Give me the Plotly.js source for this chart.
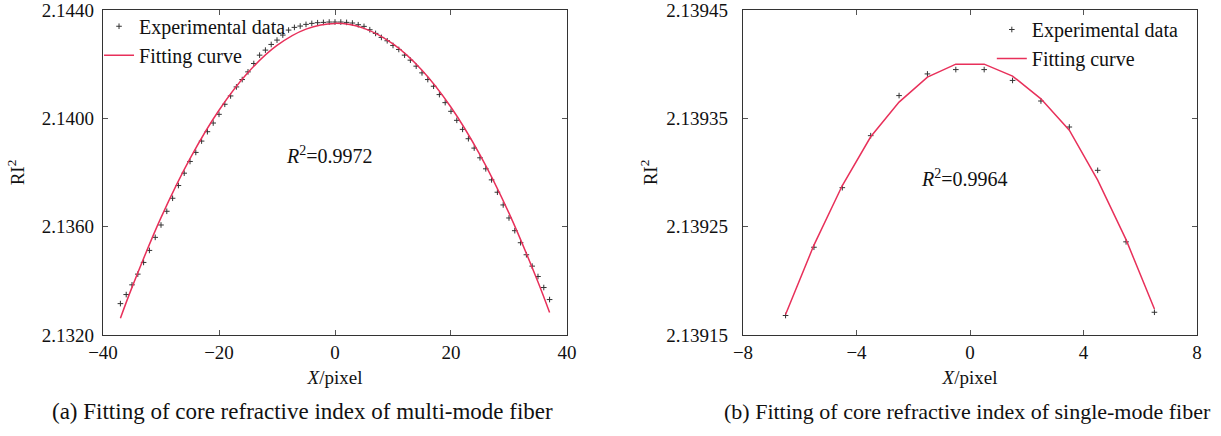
<!DOCTYPE html>
<html>
<head>
<meta charset="utf-8">
<script src="https://cdn.plot.ly/plotly-3.0.1.min.js"></script>
<style>html,body{margin:0;padding:0;background:#fff;}#chart{width:1221px;height:436px;}</style>
</head>
<body>
<div id="chart"></div>
<script>
// (a) multi-mode fiber: experimental data
const multiX = [-37,-36,-35,-34,-33,-32,-31,-30,-29,-28,-27,-26,-25,-24,-23,-22,-21,-20,-19,-18,-17,-16,-15,-14,-13,-12,-11,-10,-9,-8,-7,-6,-5,-4,-3,-2,-1,0,1,2,3,4,5,6,7,8,9,10,11,12,13,14,15,16,17,18,19,20,21,22,23,24,25,26,27,28,29,30,31,32,33,34,35,36,37];
const multiY = [2.133159,2.133493,2.133852,2.134247,2.134679,2.135123,2.135605,2.136062,2.136568,2.137049,2.137519,2.137975,2.138407,2.138741,2.139160,2.139506,2.139827,2.140148,2.140519,2.140827,2.141160,2.141432,2.141716,2.142025,2.142333,2.142519,2.142728,2.142889,2.143074,2.143259,2.143358,2.143407,2.143469,2.143506,2.143531,2.143543,2.143556,2.143556,2.143556,2.143543,2.143519,2.143457,2.143395,2.143272,2.143136,2.142988,2.142864,2.142691,2.142543,2.142333,2.142148,2.141926,2.141679,2.141432,2.141185,2.140877,2.140580,2.140259,2.139926,2.139593,2.139247,2.138901,2.138543,2.138136,2.137728,2.137272,2.136802,2.136321,2.135852,2.135407,2.134963,2.134543,2.134160,2.133753,2.133309];
// (a) fitting curve
const multiFitX = [-37,-35,-30,-25,-20,-15,-10,-5,0,5,10,15,20,25,30,35,37];
const multiFitY = [2.132619,2.133759,2.136333,2.138513,2.140299,2.141692,2.142690,2.143295,2.143506,2.143323,2.142746,2.141776,2.140411,2.138653,2.136501,2.133955,2.132827];

// (b) single-mode fiber: experimental data
const singleX = [-6.5,-5.5,-4.5,-3.5,-2.5,-1.5,-0.5,0.5,1.5,2.5,3.5,4.5,5.5,6.5];
const singleY = [2.139168,2.139231,2.139286,2.139334,2.139371,2.139391,2.139395,2.139395,2.139385,2.139366,2.139342,2.139302,2.139236,2.139171];
// (b) fitting curve
const singleFitY = [2.139169,2.139233,2.139288,2.139333,2.139365,2.139388,2.139400,2.139400,2.139389,2.139368,2.139339,2.139293,2.139238,2.139174];

// tick labels
const xTicksA = [-40, -20, 0, 20, 40];
const yTicksA = [2.1320, 2.1360, 2.1400, 2.1440];
const yTickTextA = ['2.1320', '2.1360', '2.1400', '2.1440'];
const xTicksB = [-8, -4, 0, 4, 8];
const yTicksB = [2.13915, 2.13925, 2.13935, 2.13945];
const yTickTextB = ['2.13915', '2.13925', '2.13935', '2.13945'];

// text
const legendNames = ['Experimental data', 'Fitting curve'];
const r2Texts = ['<i>R</i><sup>2</sup>=0.9972', '<i>R</i><sup>2</sup>=0.9964'];
const captions = ['(a) Fitting of core refractive index of multi-mode fiber', '(b) Fitting of core refractive index of single-mode fiber'];
const xTitle = '<i>X</i>/pixel';
const yTitle = 'RI<sup>2</sup>';

const serif = 'Liberation Serif, Times New Roman, serif';
const markerStyle = {symbol: 'cross-thin-open', size: 4, color: '#333', line: {color: '#333', width: 1}};
const lineStyle = {color: '#e8305a', width: 1.5};

const traces = [
  {x: multiX, y: multiY, type: 'scatter', mode: 'markers', name: legendNames[0], marker: markerStyle, xaxis: 'x', yaxis: 'y', legend: 'legend', legendgroup: 'a1'},
  {x: multiFitX, y: multiFitY, type: 'scatter', mode: 'lines', name: legendNames[1], line: Object.assign({shape: 'spline'}, lineStyle), xaxis: 'x', yaxis: 'y', legend: 'legend', legendgroup: 'a2'},
  {x: singleX, y: singleY, type: 'scatter', mode: 'markers', name: legendNames[0], marker: markerStyle, xaxis: 'x2', yaxis: 'y2', legend: 'legend2', legendgroup: 'b1'},
  {x: singleX, y: singleFitY, type: 'scatter', mode: 'lines', name: legendNames[1], line: lineStyle, xaxis: 'x2', yaxis: 'y2', legend: 'legend2', legendgroup: 'b2'}
];

const axisCommon = {
  showline: true, linecolor: '#333', linewidth: 1.3, mirror: 'ticks',
  ticks: 'inside', ticklen: 5, tickcolor: '#555', tickwidth: 1,
  showgrid: false, zeroline: false, ticklabeloverflow: 'allow',
  tickfont: {family: serif, size: 19, color: '#111'}
};

const dA = [0.08436, 0.46437];
const dB = [0.60852, 0.98034];

const layout = {
  width: 1221, height: 436,
  margin: {l: 0, r: 0, t: 10, b: 101},
  paper_bgcolor: '#fff', plot_bgcolor: '#fff',
  font: {family: serif, size: 19, color: '#111'},
  showlegend: true,
  xaxis: Object.assign({}, axisCommon, {domain: dA, range: [-40, 40], tickmode: 'array', tickvals: xTicksA, anchor: 'y',
    title: {text: xTitle, font: {family: serif, size: 19}, standoff: 8}}),
  yaxis: Object.assign({}, axisCommon, {domain: [0, 1], range: [2.132, 2.144], tickmode: 'array', tickvals: yTicksA, ticktext: yTickTextA, anchor: 'x',
    ticklabelstandoff: 4,
    title: {text: yTitle, font: {family: serif, size: 19}, standoff: 12}}),
  xaxis2: Object.assign({}, axisCommon, {domain: dB, range: [-8, 8], tickmode: 'array', tickvals: xTicksB, anchor: 'y2',
    title: {text: xTitle, font: {family: serif, size: 19}, standoff: 8}}),
  yaxis2: Object.assign({}, axisCommon, {domain: [0, 1], range: [2.13915, 2.13945], tickmode: 'array', tickvals: yTicksB, ticktext: yTickTextB, anchor: 'x2',
    ticklabelstandoff: 10,
    title: {text: yTitle, font: {family: serif, size: 19}, standoff: 3}}),
  legend: {x: 0.0811, xanchor: 'left', y: 1.01, yanchor: 'top', bgcolor: 'rgba(0,0,0,0)', borderwidth: 0,
    font: {family: serif, size: 20, color: '#111'}, traceorder: 'grouped', tracegroupgap: 0},
  legend2: {x: 0.8123, xanchor: 'left', y: 1.0, yanchor: 'top', bgcolor: 'rgba(0,0,0,0)', borderwidth: 0,
    font: {family: serif, size: 20, color: '#111'}, traceorder: 'grouped', tracegroupgap: 0},
  annotations: [
    {xref: 'x', yref: 'y', x: -0.9, y: 2.13863, text: r2Texts[0], showarrow: false, font: {family: serif, size: 20, color: '#111'}},
    {xref: 'x2', yref: 'y2', x: -0.2, y: 2.139295, text: r2Texts[1], showarrow: false, font: {family: serif, size: 20, color: '#111'}},
    {xref: 'paper', yref: 'paper', x: 50 / 1221, xanchor: 'left', y: -0.234, yanchor: 'middle', text: captions[0], showarrow: false, font: {family: serif, size: 23, color: '#111'}},
    {xref: 'paper', yref: 'paper', x: 722 / 1221, xanchor: 'left', y: -0.234, yanchor: 'middle', text: captions[1], showarrow: false, font: {family: serif, size: 22, color: '#111'}}
  ]
};

Plotly.newPlot('chart', traces, layout, {staticPlot: true, displayModeBar: false});
</script>
</body>
</html>
